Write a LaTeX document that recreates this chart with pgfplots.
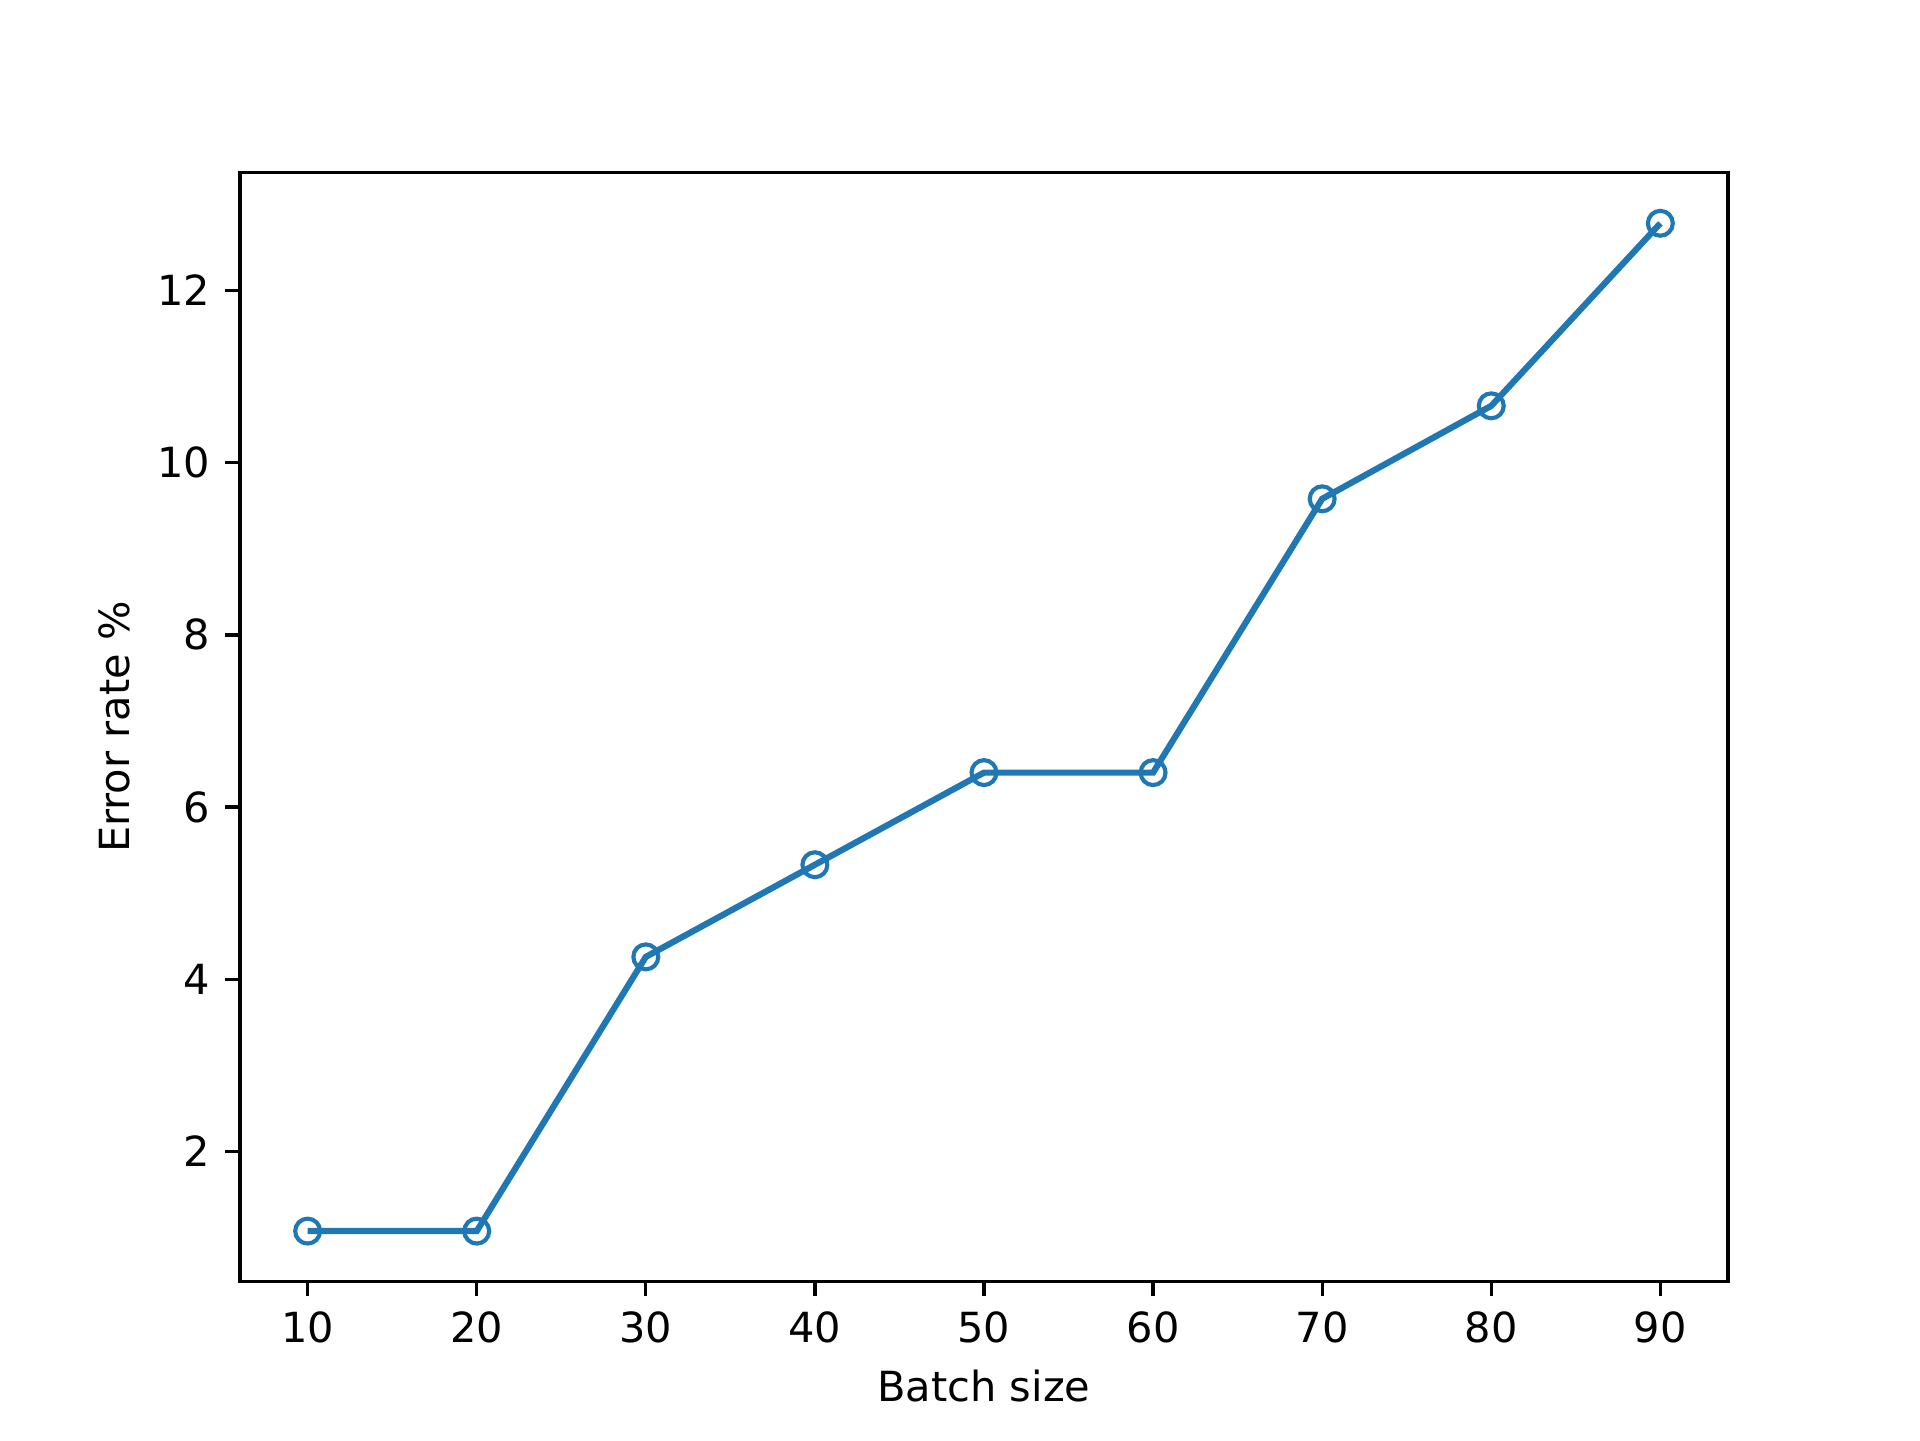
\documentclass[border=0pt]{standalone}
\usepackage{pgfplots}
\pgfplotsset{compat=1.18}
\usepackage{fontspec}
\setmainfont{DejaVu Sans}
\definecolor{mplblue}{HTML}{1F77B4}
\begin{document}
\fontsize{10}{12}\selectfont
\begin{tikzpicture}
\path[fill=white] (0,0) rectangle (6.4in,4.8in);
\begin{axis}[
  at={(0.8in,0.528in)}, anchor=south west,
  scale only axis, width=4.96in, height=3.696in,
  xmin=6, xmax=94, ymin=0.4885, ymax=13.3665,
  xtick={10,20,...,90}, ytick={2,4,...,12},
  tick align=outside, xtick pos=left, ytick pos=left,
  major tick length=3.5pt,
  every tick/.style={black, line width=0.8pt},
  axis line style={line width=0.8pt},
  /pgf/number format/assume math mode=true,
  ticklabel style={font=\fontsize{10}{12}\selectfont},
  xticklabel style={inner sep=0pt, yshift=-3.5pt},
  yticklabel style={inner sep=0pt, xshift=-3.5pt},
  label style={font=\fontsize{10}{12}\selectfont},
  xlabel={Batch size}, ylabel={Error rate \%},
  xlabel style={inner sep=0pt, yshift=-6.4pt},
  ylabel style={inner sep=0pt, yshift=6.4pt},
  clip=false,
]
\addplot[mplblue, line width=1.5pt, mark=o,
  mark options={line width=1pt, scale=1.5, fill=none}]
coordinates {
(10,1.075) (20,1.075) (30,4.26) (40,5.33) (50,6.40) (60,6.40) (70,9.58) (80,10.66) (90,12.78)
};
\end{axis}
\end{tikzpicture}
\end{document}
